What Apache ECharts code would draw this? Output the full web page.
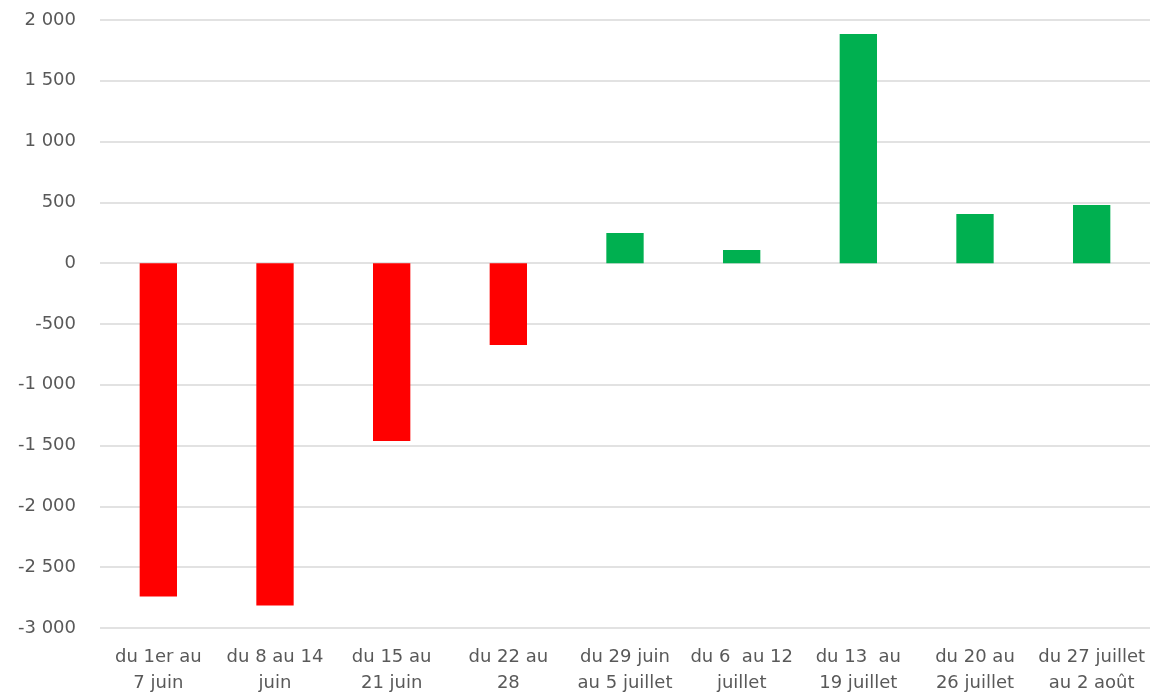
<!DOCTYPE html>
<html><head><meta charset="utf-8">
<script src="https://cdn.jsdelivr.net/npm/echarts@6/dist/echarts.min.js"></script>
<style>html,body{margin:0;padding:0;background:#fff}#c{width:1151px;height:692px}</style>
</head><body><div id="c"></div>
<script>
const categories = ["du 1er au\n7 juin","du 8 au 14\njuin","du 15 au\n21 juin","du 22 au\n28","du 29 juin\nau 5 juillet","du 6  au 12\njuillet","du 13  au\n19 juillet","du 20 au\n26 juillet","du 27 juillet\nau 2 août"];
const values = [-2740,-2815,-1462,-672,248,108,1885,405,479];
const negColor = "#ff0000", posColor = "#00b050";
const chart = echarts.init(document.getElementById('c'));
chart.setOption({
  animation:false,
  grid:{left:100,right:1,top:20,bottom:64,containLabel:false,outerBoundsMode:'none'},
  xAxis:{type:'category',data:categories,
    axisLine:{show:false},axisTick:{show:false},
    axisLabel:{interval:0,color:'#595959',fontFamily:'DejaVu Sans',fontSize:18,lineHeight:26,margin:16}},
  yAxis:{type:'value',min:-3000,max:2000,interval:500,
    axisLine:{show:false},axisTick:{show:false},
    splitLine:{lineStyle:{color:'#d9d9d9',width:1.5}},
    axisLabel:{color:'#595959',fontFamily:'DejaVu Sans',fontSize:18,margin:24,
      formatter:v=>{const s=Math.abs(v).toString().replace(/\B(?=(\d{3})+(?!\d))/g,' ');return (v<0?'-':'')+s;}}},
  series:[{type:'bar',barWidth:'32%',
    data:values.map(v=>({value:v,itemStyle:{color:v<0?negColor:posColor}}))}]
});
</script></body></html>
